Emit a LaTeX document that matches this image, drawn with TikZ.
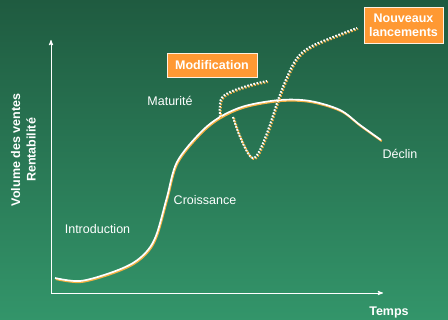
\documentclass[tikz,border=0pt]{standalone}
\usepackage{fontspec}
\setmainfont{Liberation Sans}
\usetikzlibrary{shapes,arrows,positioning,calc}
\definecolor{bgtop}{HTML}{1F5B40}
\definecolor{bgbot}{HTML}{33956A}
\definecolor{boxorange}{HTML}{FF9933}
\definecolor{lineorange}{HTML}{F5B041}
\tikzstyle{label} = [text=white, font=\fontsize{12.5}{14}\selectfont]
\tikzstyle{tag} = [rectangle, draw=white!85!boxorange, fill=boxorange, text=white, align=center, inner sep=0pt, font=\fontsize{12.5}{14}\selectfont\bfseries]
\tikzstyle{axis} = [draw=white, line width=0.9pt, ->, >=stealth']
\tikzstyle{life} = [line width=1.7pt]
\tikzstyle{dots} = [line width=2pt, dash pattern=on 1.6pt off 1.6pt]

\begin{document}
\begin{tikzpicture}[x=1pt, y=-1pt]
    \shade[top color=bgtop, bottom color=bgbot] (0,0) rectangle (448,320);
    \useasboundingbox (0,0) rectangle (448,320);

    \coordinate (origin) at (51,293);
    \coordinate (ytop) at (51,40);
    \coordinate (xend) at (383,293);
    \draw[axis] (origin) -- (ytop);
    \draw[axis] (origin) -- (xend);

    \node[label, font=\fontsize{12.5}{15.5}\selectfont\bfseries, rotate=90, align=center] (yname) at (23.5,150) {Volume des ventes\\Rentabilité};
    \node[label, font=\fontsize{12.5}{14}\selectfont\bfseries] (xname) at (389,312) {Temps};

    % cycle de vie
    \foreach \col/\shift in {lineorange/1.2, white/0} {
        \draw[life, draw=\col, shift={(\shift*0.6,\shift)}] plot[smooth, tension=0.55] coordinates {
            (55,278) (80,281) (110,273) (133,263) (148,250) (157,233) (167,197)
            (177,162) (200,133) (220,117) (245,106) (280,100) (310,101)
            (340,110) (360,125) (381,140)};
    }

    % modification
    \foreach \col/\shift in {lineorange/1, white/0} {
        \draw[dots, draw=\col, shift={(\shift,\shift)}] plot[smooth, tension=0.6] coordinates {
            (220,117) (220.7,100) (230,92) (250,85) (267,81)};
    }

    % nouveaux lancements
    \foreach \col/\shift in {lineorange/1, white/0} {
        \draw[dots, draw=\col, shift={(\shift,\shift)}] plot[smooth, tension=0.6] coordinates {
            (233,117) (240,137) (250,156) (257,155) (267,133) (278,100)
            (287,77) (297,58) (310,47) (333,37) (357,28)};
    }

    \node[label] (intro) at (97.5,229) {Introduction};
    \node[label] (growth) at (205,200) {Croissance};
    \node[label] (mature) at (170,101) {Maturité};
    \node[label] (decline) at (400,154) {Déclin};

    \node[tag, minimum width=90pt, minimum height=24pt] (modif) at (212,65) {Modification};
    \node[tag, minimum width=79pt, minimum height=36pt] (launch) at (403.5,25) {Nouveaux\\lancements};
\end{tikzpicture}
\end{document}
